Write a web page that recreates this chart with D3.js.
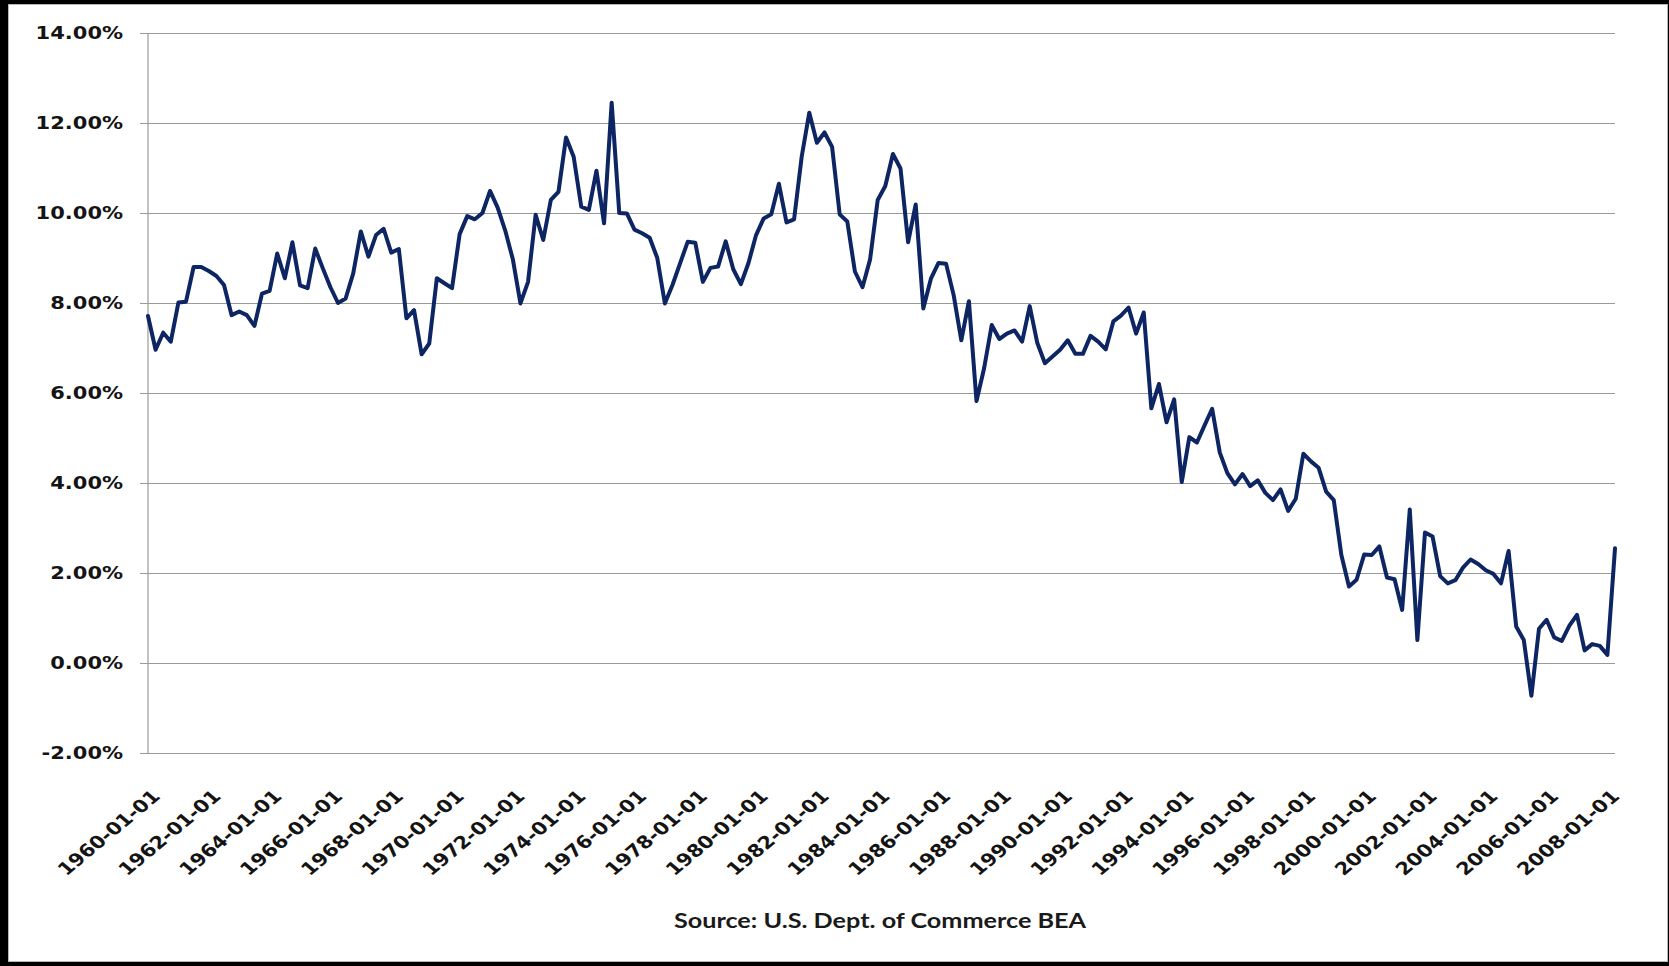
<!DOCTYPE html>
<html>
<head>
<meta charset="utf-8">
<script src="https://cdn.jsdelivr.net/npm/d3@7"></script>
<style>
  html, body { margin: 0; padding: 0; background: #000; }
  svg { display: block; }
</style>
</head>
<body>
<svg id="chart" width="1669" height="966"></svg>
<script>
// Personal saving rate, quarterly, 1960 Q1 – 2008 Q2 (percent of disposable income)
const savingRate = [
  7.71, 6.96, 7.34, 7.14, 8.01, 8.03, 8.80, 8.80, 8.71, 8.60,
  8.40, 7.73, 7.81, 7.73, 7.49, 8.21, 8.27, 9.10, 8.55, 9.35,
  8.39, 8.33, 9.21, 8.77, 8.35, 8.00, 8.10, 8.66, 9.59, 9.03,
  9.51, 9.65, 9.12, 9.20, 7.66, 7.84, 6.86, 7.10, 8.55, 8.44,
  8.33, 9.53, 9.93, 9.86, 10.00, 10.49, 10.12, 9.61, 8.97, 7.99,
  8.47, 9.96, 9.40, 10.29, 10.47, 11.68, 11.25, 10.14, 10.07, 10.94,
  9.77, 12.45, 10.00, 9.99, 9.63, 9.55, 9.45, 9.00, 7.99, 8.40,
  8.88, 9.36, 9.34, 8.47, 8.78, 8.81, 9.37, 8.75, 8.42, 8.89,
  9.51, 9.88, 9.97, 10.65, 9.79, 9.86, 11.25, 12.23, 11.56, 11.79,
  11.47, 9.97, 9.81, 8.70, 8.35, 8.97, 10.29, 10.60, 11.31, 10.99,
  9.35, 10.19, 7.88, 8.54, 8.89, 8.87, 8.17, 7.17, 8.04, 5.82,
  6.55, 7.51, 7.20, 7.32, 7.39, 7.14, 7.93, 7.11, 6.66, 6.81,
  6.96, 7.17, 6.87, 6.87, 7.27, 7.14, 6.97, 7.59, 7.72, 7.90,
  7.32, 7.79, 5.66, 6.20, 5.35, 5.86, 4.02, 5.02, 4.90, 5.28,
  5.65, 4.68, 4.22, 3.97, 4.20, 3.93, 4.06, 3.78, 3.62, 3.86,
  3.38, 3.65, 4.65, 4.48, 4.34, 3.81, 3.62, 2.40, 1.70, 1.85,
  2.41, 2.40, 2.59, 1.90, 1.86, 1.18, 3.41, 0.51, 2.90, 2.81,
  1.93, 1.77, 1.84, 2.12, 2.30, 2.20, 2.06, 1.98, 1.77, 2.49,
  0.81, 0.51, -0.73, 0.76, 0.96, 0.57, 0.49, 0.83, 1.07, 0.28,
  0.42, 0.38, 0.18, 2.55
];

// Quarter start dates used as the category axis
const fmtDay = d3.timeFormat("%Y-%m-%d");
const quarters = d3.timeMonth.every(3)
  .range(new Date(1960, 0, 1), new Date(2008, 6, 1))
  .map(fmtDay);

const yTicks = [-2, 0, 2, 4, 6, 8, 10, 12, 14];
const xTickLabels = [
  "1960-01-01", "1962-01-01", "1964-01-01", "1966-01-01", "1968-01-01",
  "1970-01-01", "1972-01-01", "1974-01-01", "1976-01-01", "1978-01-01",
  "1980-01-01", "1982-01-01", "1984-01-01", "1986-01-01", "1988-01-01",
  "1990-01-01", "1992-01-01", "1994-01-01", "1996-01-01", "1998-01-01",
  "2000-01-01", "2002-01-01", "2004-01-01", "2006-01-01", "2008-01-01"
];
const sourceNote = "Source: U.S. Dept. of Commerce BEA";

// ---- layout ----
const W = 1669, H = 966;
const plot = { left: 148, right: 1615, top: 33, bottom: 753 };
const stretchX = 1.2;   // text in this chart is drawn horizontally widened
const labelFont = "'DejaVu Sans', Verdana, sans-serif";

const svg = d3.select("#chart");

// white card on a black surround
svg.append("rect").attr("x", 0).attr("y", 0).attr("width", W).attr("height", H).attr("fill", "#000");
svg.append("rect")
  .attr("x", 8.5).attr("y", 4.5).attr("width", W - 10).attr("height", H - 9)
  .attr("fill", "#fff").attr("stroke", "#b5b5b5").attr("stroke-width", 1);

const x = d3.scalePoint().domain(quarters).range([plot.left, plot.right]);
const y = d3.scaleLinear().domain([-2, 14]).range([plot.bottom, plot.top]);

// horizontal gridlines with short outside ticks
const yAxis = d3.axisLeft(y)
  .tickValues(yTicks)
  .tickSize(-(plot.right - plot.left))
  .tickSizeOuter(0)
  .tickFormat("");
const gy = svg.append("g").attr("transform", `translate(${plot.left},0)`).call(yAxis);
gy.select(".domain").remove();
gy.selectAll(".tick line")
  .attr("x1", -8)
  .attr("stroke", "#9a9a9a").attr("stroke-width", 1.2);

// vertical axis line
svg.append("line")
  .attr("x1", plot.left).attr("x2", plot.left)
  .attr("y1", y(14)).attr("y2", y(-2))
  .attr("stroke", "#9a9a9a").attr("stroke-width", 1.2);

// y tick labels
const fmtPct = d => d.toFixed(2) + "%";
svg.append("g").selectAll("g")
  .data(yTicks)
  .join("g")
  .attr("transform", d => `translate(123,${y(d)}) scale(${stretchX},1)`)
  .append("text")
  .attr("text-anchor", "end")
  .attr("dy", "0.36em")
  .attr("font-family", labelFont)
  .attr("font-weight", "bold")
  .attr("font-size", 17.5)
  .attr("fill", "#141414")
  .text(fmtPct);

// x tick labels, rotated 45 degrees
svg.append("g").selectAll("g")
  .data(xTickLabels)
  .join("g")
  .attr("transform", d => `translate(${x(d) + 8},${plot.bottom + 40}) scale(${stretchX},1) rotate(-45)`)
  .append("text")
  .attr("text-anchor", "end")
  .attr("dy", "0.36em")
  .attr("font-family", labelFont)
  .attr("font-weight", "bold")
  .attr("font-size", 17.5)
  .attr("fill", "#141414")
  .text(d => d);

// series line
const line = d3.line()
  .x((d, i) => x(quarters[i]))
  .y(d => y(d));
svg.append("path")
  .datum(savingRate)
  .attr("fill", "none")
  .attr("stroke", "#0d2562")
  .attr("stroke-width", 4)
  .attr("stroke-linejoin", "round")
  .attr("stroke-linecap", "round")
  .attr("d", line);

// source note
svg.append("g")
  .attr("transform", `translate(880,928) scale(${stretchX},1)`)
  .append("text")
  .attr("text-anchor", "middle")
  .attr("font-family", "Lato, 'Open Sans', sans-serif")
  .attr("font-weight", "bold")
  .attr("font-size", 21)
  .attr("fill", "#1a1a1a")
  .text(sourceNote);
</script>
</body>
</html>
